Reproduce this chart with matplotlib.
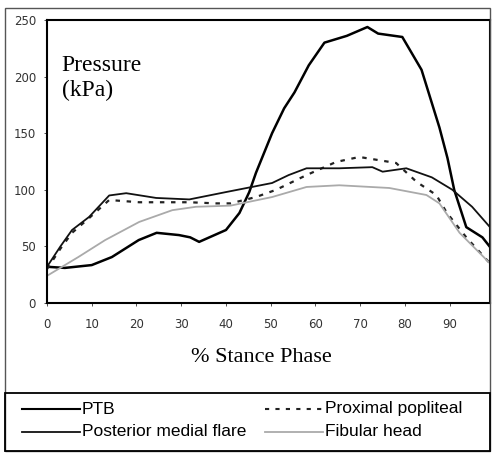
import numpy as np
import matplotlib.pyplot as plt
from matplotlib.patches import Rectangle
from matplotlib.lines import Line2D

# % stance phase / pressure (kPa)
ptb_x = [0, 4, 10, 14.5, 20.5, 24.5, 29.5, 32, 34, 40, 43, 45.2, 46.7, 50.3, 53, 55.3,
         58.5, 62, 67, 71.6, 74, 79.4, 83.7, 87.7, 89.5, 91, 93.7, 97.3, 99]
ptb_y = [32, 31, 33.5, 40.6, 55.6, 62, 60, 58, 54, 64.5, 79.5, 98, 115, 150, 172, 186,
         210, 230, 236, 243.8, 238, 235, 206, 155, 128, 100, 67, 58, 49.5]

pmf_x = [0, 3, 5.6, 9.4, 13.9, 17.7, 24.4, 31.8, 40, 50.3, 54, 58, 65.3, 72.7, 75, 80.3,
         86, 90.6, 95, 99]
pmf_y = [32, 50, 64.5, 76, 95, 97, 92.8, 91.5, 98, 106, 113, 119, 119, 120, 116, 119,
         111, 100, 85, 67]

pop_x = [0, 3, 5.6, 9.4, 13.9, 20.6, 31.8, 37.8, 41, 46.7, 51.2, 58, 64.6, 69.8, 78,
         82.6, 87, 89.3, 93.7, 99]
pop_y = [30, 48, 62, 75, 91, 89, 89, 88, 88, 93.6, 100, 113, 124.6, 129, 123.7,
         107, 95.4, 80, 58, 35]

fib_x = [0, 7, 13, 20.6, 28, 33.3, 41, 50.3, 58, 65.3, 76.5, 84.8, 87.7, 92.2, 99]
fib_y = [24, 40.6, 55.6, 71.6, 82, 85, 86, 93.6, 102.5, 104, 101.6, 95.4, 88, 62, 35]

W, H = 492, 455
DOTS = (0, (2, 3))
fig = plt.figure(figsize=(W / 100, H / 100), dpi=100)
ax = fig.add_axes([47 / W, 1 - 303 / H, 443 / W, 283 / H])

ptb, = ax.plot(ptb_x, ptb_y, color='black', lw=1.8, label='PTB')
pop, = ax.plot(pop_x, pop_y, color='#222222', lw=1.6, ls=DOTS, label='Proximal popliteal')
pmf, = ax.plot(pmf_x, pmf_y, color='#111111', lw=1.3, label='Posterior medial flare')
fib, = ax.plot(fib_x, fib_y, color='#aaaaaa', lw=1.3, label='Fibular head')

ax.set_xlim(0, 99)
ax.set_ylim(0, 250)
ax.set_xticks(np.arange(0, 100, 10))
ax.set_yticks(np.arange(0, 251, 50))
ax.tick_params(labelsize=8.5, length=2, width=0.6, colors='#333333')
ax.tick_params(axis='x', pad=9)
ax.tick_params(axis='y', pad=6)
for s in ax.spines.values():
    s.set_linewidth(1.5)

ax.text(0.033, 0.875, 'Pressure\n(kPa)', transform=ax.transAxes, va='top', ha='left',
        family='Liberation Serif', fontsize=17, linespacing=1.2)

fig.text(261 / W, 1 - 357 / H, '% Stance Phase', ha='center', va='center',
         family='Liberation Serif', fontsize=16)

# outer frame and legend box
fig.patches.append(Rectangle((5 / W, 4 / H), 485 / W, 443 / H, transform=fig.transFigure,
                             fill=False, lw=1.0, ec='#555555'))
fig.patches.append(Rectangle((5 / W, 4 / H), 485 / W, 58 / H, transform=fig.transFigure,
                             fill=False, lw=1.3, ec='black'))

# legend entries placed by hand, two columns
entries = [(ptb, '-', 22, 409), (pmf, '-', 22, 432), (pop, DOTS, 265, 409), (fib, '-', 265, 432)]
for h, ls, x0, y0 in entries:
    yy = 1 - y0 / H
    fig.lines.append(Line2D([x0 / W, (x0 + 58) / W], [yy, yy], transform=fig.transFigure,
                            color=h.get_color(), lw=min(h.get_linewidth(), 1.5), ls=ls))
    fig.text((x0 + 60) / W, yy, h.get_label(), va='center', ha='left',
             family='Liberation Sans', fontsize=12.5)

fig.savefig('out.png', dpi=100)
